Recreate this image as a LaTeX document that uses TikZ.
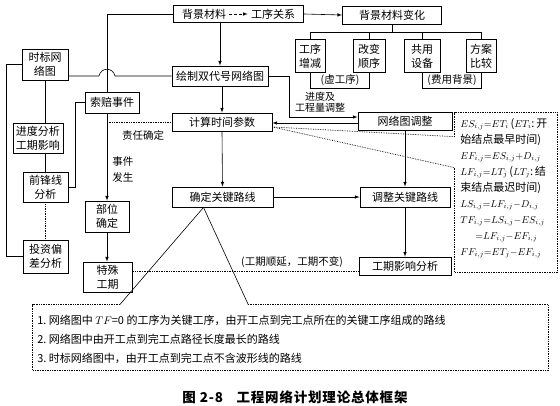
\documentclass[tikz,border=0pt]{standalone}
\usepackage{amsmath}
\usepackage{fontspec}
\setmainfont{Noto Sans CJK SC}
\usepackage{tikz}
\usetikzlibrary{fit}
\newcommand{\fmath}[1]{{\fontsize{10}{16}\selectfont$#1$}}

\begin{document}
\begin{tikzpicture}[x=1pt,y=-1pt,>=latex,line width=0.6pt,
  font=\fontsize{11}{14}\selectfont,
  box/.style={draw,line width=0.9pt,align=center,inner sep=0pt},
  dotline/.style={densely dotted,line width=0.7pt},
  lbl/.style={inner sep=0pt,align=center,font=\fontsize{10.5}{12}\selectfont}]
  \useasboundingbox (0,0) rectangle (560,406);
% top row
  \node[inner sep=0pt] (bgA) at (204,14) {背景材料};
  \node[inner sep=0pt] (bgB) at (273,14) {工序关系};
  \node[box,fit=(bgA)(bgB),inner xsep=8pt,inner ysep=3.5pt] (bg) {};
  \draw[->,densely dashed] ([xshift=3pt]bgA.east) -- ([xshift=-3pt]bgB.west);
  \node[box,minimum width=99,minimum height=18] (bgchg) at (392,15) {背景材料变化};
  \node[box,minimum width=30,minimum height=33] (gxzj) at (310,56) {工序\\增减};
  \node[box,minimum width=32,minimum height=33] (gbsx) at (369,56) {改变\\顺序};
  \node[box,minimum width=36,minimum height=33] (gysb) at (422,56) {共用\\设备};
  \node[box,minimum width=30,minimum height=33] (fabj) at (481,56) {方案\\比较};
  \draw[->] (bg.east) -- (bgchg.west);
  \path (bgchg.south) ++(0,8) coordinate (br);
  \draw (bgchg.south) -- (br);
  \draw (gxzj.north) |- (br) -| (fabj.north);
  \draw (gbsx.north) -- (gbsx.north |- br);
  \draw (gysb.north) -- (gysb.north |- br);
  \draw (gxzj.south) -- ++(0,15) -| (gbsx.south);
  \draw (gysb.south) -- ++(0,15) -| (fabj.south);
  \node[lbl] (xgx) at (340,80) {(虚工序)};
  \node[lbl] (fybj) at (452,80) {(费用背景)};
% main column
  \node[box,minimum width=96,minimum height=20] (hz) at (220,76) {绘制双代号网络图};
  \node[box,minimum width=100,minimum height=18] (jisuan) at (222,122) {计算时间参数};
  \node[box,minimum width=101,minimum height=20] (qdgj) at (222.5,197) {确定关键路线};
  \node[box,minimum width=94,minimum height=18] (wltz) at (405,121) {网络图调整};
  \node[box,minimum width=90,minimum height=20] (tzgj) at (405,197) {调整关键路线};
  \node[box,minimum width=92,minimum height=18] (gqyx) at (405,266) {工期影响分析};
  \draw[->] (bg.south -| hz) -- (hz.north);
  \draw[->] (hz.south -| jisuan) -- (jisuan.north);
  \draw[->] (jisuan.south) -- (qdgj.north);
  \draw[->] (qdgj.east) -- (tzgj.west);
  \draw[->] (wltz.south) -- (tzgj.north);
  \draw[->] (tzgj.south) -- (gqyx.north);
  \draw[->] (hz.east) -- ++(21,0) |- ([yshift=4pt]wltz.west);
  \draw[->] ([yshift=-2pt]wltz.west) -- ([yshift=-2pt]wltz.west -| jisuan.east);
  \node[lbl,font=\fontsize{10}{11}\selectfont] (jdtz) at (320,102) {进度及\\工程量调整};
% left side
  \node[box,minimum width=46,minimum height=31] (sjwl) at (45,64.5) {时标网\\络图};
  \node[box,minimum width=54,minimum height=21] (suopei) at (112,102.5) {索赔事件};
  \node[box,minimum width=50,minimum height=30] (jdfx) at (38,138) {进度分析\\工期影响};
  \node[box,minimum width=45,minimum height=30] (qfx) at (45.5,187) {前锋线\\分析};
  \node[box,minimum width=45,minimum height=33] (tzpc) at (45.5,256.5) {投资偏\\差分析};
  \node[box,minimum width=44,minimum height=31] (bwqd) at (107,216.5) {部位\\确定};
  \node[box,minimum width=49,minimum height=30] (tsgq) at (107.5,277) {特殊\\工期};
  \coordinate (hop) at (bwqd |- hz.west);
  \draw (sjwl.east |- hz.west) -- ([xshift=-8pt]hop)
    .. controls ([xshift=-6pt,yshift=9pt]hop) and ([xshift=6pt,yshift=9pt]hop) .. ([xshift=8pt]hop)
    -- (hz.west);
  \draw (bg.west) -| (suopei.north -| bwqd);
  \draw[->] (suopei.south -| bwqd) -- (bwqd.north);
  \draw[->] (bwqd.south) -- (bwqd.south |- tsgq.north);
  \draw[dotline] (bwqd |- jisuan.west) -- (jisuan.west);
  \node[lbl] (zrqd) at (143,135) {责任确定};
  \node[lbl,align=left,anchor=west,font=\fontsize{10.5}{16}\selectfont] (sjfs) at (112,170) {事件\\发生};
  \draw (sjwl.south) -- (sjwl.south |- jdfx.north);
  \draw (qfx.north |- jdfx.south) -- (qfx.north);
  \draw[dotline] (qfx.south) -- (tzpc.north);
  \draw (sjwl.west) -- ++(-15,0) |- (tzpc.west);
  \draw (suopei.west) -- ++(-9,0) |- (qfx.east);
  \draw[dotline] ([yshift=-5pt]gqyx.west) -- ([yshift=-5pt]gqyx.west -| tsgq.east);
  \node[lbl] (gqsy) at (292,262) {(工期顺延，工期不变)};
% formula callout
  \node[minimum width=102,minimum height=159,inner sep=0pt] (fbox) at (506,192.5) {};
  \coordinate (fA) at ([yshift=-24pt]fbox.north west);
  \coordinate (fB) at ([yshift=-55pt]fbox.north west);
  \draw[dotline] (fA) -- (fbox.north west) -- (fbox.north east) -- (fbox.south east)
    -- (fbox.south west) -- (fB);
  \draw[dotline] ([yshift=-5pt]jisuan.east) -- (fA);
  \draw[dotline] ([yshift=-5pt]jisuan.east) -- (fB);
  \node[align=left,inner sep=0pt,anchor=north west,font=\fontsize{11}{16}\selectfont] (fml)
    at (460,118) {\fmath{ES_{i,j}{=}ET_i}\,(\fmath{ET_i}:\,开\\
    始结点最早时间)\\
    \fmath{EF_{i,j}{=}ES_{i,j}{+}D_{i,j}}\\
    \fmath{LF_{i,j}{=}LT_j}\,(\fmath{LT_j}:\,结\\
    束结点最迟时间)\\
    \fmath{LS_{i,j}{=}LF_{i,j}{-}D_{i,j}}\\
    \fmath{TF_{i,j}{=}LS_{i,j}{-}ES_{i,j}}\\
    \hspace{15pt}\fmath{{=}LF_{i,j}{-}EF_{i,j}}\\
    \fmath{FF_{i,j}{=}ET_j{-}EF_{i,j}}};
% notes callout
  \node[minimum width=515,minimum height=65,inner sep=0pt] (nbox) at (290.5,337.5) {};
  \coordinate (nA) at ([xshift=87pt]nbox.north west);
  \coordinate (nB) at ([xshift=-300pt]nbox.north east);
  \draw[dotline] (nA) -- (nbox.north west) -- (nbox.south west) -- (nbox.south east)
    -- (nbox.north east) -- (nB);
  \draw ([xshift=-19pt]qdgj.south) -- (nA);
  \draw ([xshift=-19pt]qdgj.south) -- (nB);
  \node[lbl,anchor=west,font=\fontsize{11}{12}\selectfont] (note1) at (37,320) {1.\ 网络图中 $TF$=0 的工序为关键工序，由开工点到完工点所在的关键工序组成的路线};
  \node[lbl,anchor=west,font=\fontsize{11}{12}\selectfont] (note2) at (37,339) {2.\ 网络图中由开工点到完工点路径长度最长的路线};
  \node[lbl,anchor=west,font=\fontsize{11}{12}\selectfont] (note3) at (37,358) {3.\ 时标网络图中，由开工点到完工点不含波形线的路线};
  \node[font=\fontsize{13.5}{15}\selectfont\bfseries\addfontfeatures{LetterSpace=6}] (caption) at (295,397) {图 2-8\quad 工程网络计划理论总体框架};
\end{tikzpicture}
\end{document}
